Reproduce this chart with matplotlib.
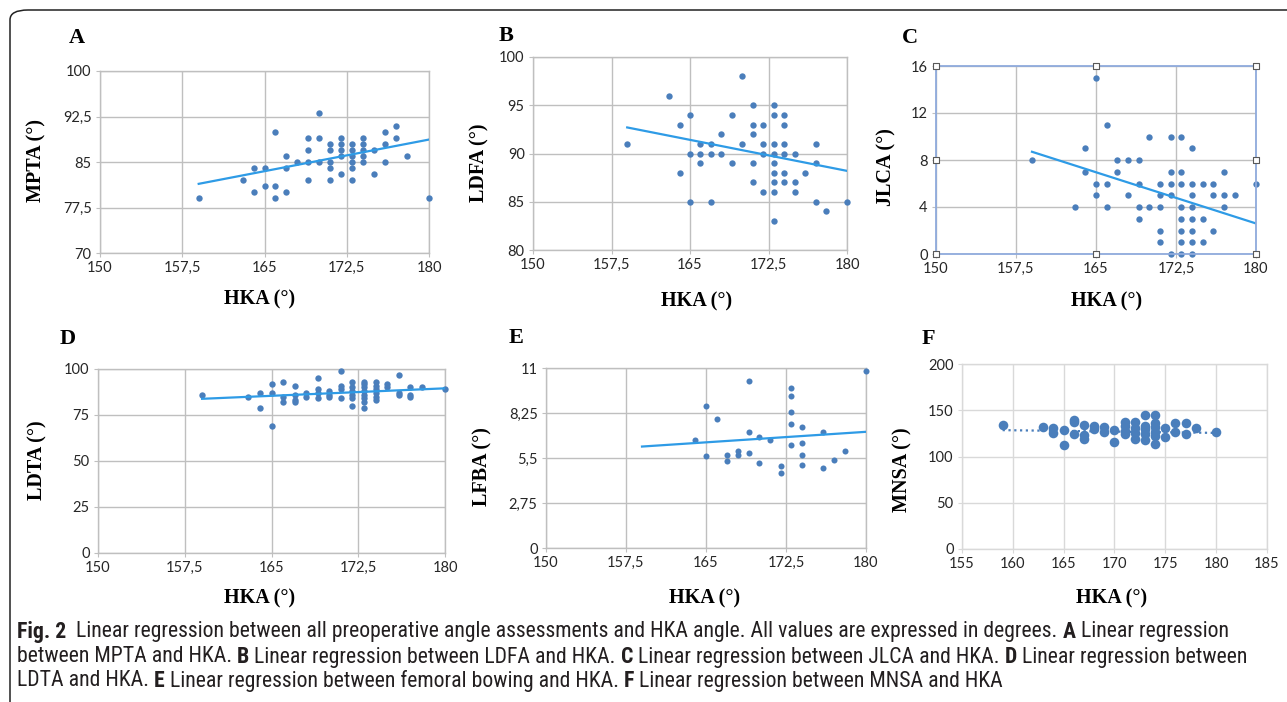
import numpy as np
import matplotlib.pyplot as plt
from matplotlib import font_manager
from matplotlib.font_manager import FontProperties
from matplotlib.patches import FancyBboxPatch

W, H = 1287, 702

# ---- data ----
hka_a = [159, 163, 164, 164, 165, 165, 166, 166, 166, 167, 167, 167, 168, 169, 169, 169, 169,
         170, 170, 170, 171, 171, 171, 171, 171, 172, 172, 172, 172, 172, 173, 173, 173, 173,
         173, 173, 174, 174, 174, 174, 174, 175, 175, 176, 176, 176, 177, 177, 178, 180]
mpta = [79, 82, 84, 80, 84, 81, 90, 81, 79, 86, 84, 80, 85, 89, 87, 85, 82,
        93, 89, 85, 88, 87, 85, 84, 82, 89, 88, 87, 86, 83, 88, 87, 86, 85,
        84, 82, 89, 88, 87, 86, 85, 87, 83, 90, 88, 85, 91, 89, 86, 79]

hka_b = [159, 163, 164, 164, 165, 165, 165, 166, 166, 166, 167, 167, 167, 168, 168, 169, 169,
         170, 170, 171, 171, 171, 171, 171, 172, 172, 172, 172, 173, 173, 173, 173, 173, 173,
         173, 173, 173, 174, 174, 174, 174, 174, 174, 175, 175, 175, 176, 177, 177, 177, 178, 180]
ldfa = [91, 96, 93, 88, 94, 90, 85, 91, 90, 89, 91, 90, 85, 92, 90, 94, 89,
        98, 91, 95, 93, 92, 89, 87, 93, 91, 90, 86, 95, 94, 91, 90, 89, 88,
        87, 86, 83, 94, 93, 91, 90, 88, 87, 90, 87, 86, 88, 91, 89, 85, 84, 85]

hka_c = [159, 163, 164, 164, 165, 165, 165, 166, 166, 166, 167, 167, 168, 168, 169, 169, 169, 169,
         170, 170, 171, 171, 171, 171, 171, 172, 172, 172, 172, 172, 173, 173, 173, 173, 173, 173,
         173, 173, 174, 174, 174, 174, 174, 174, 174, 174, 175, 175, 175, 176, 176, 176, 177, 177,
         177, 178, 180]
jlca = [8, 4, 9, 7, 15, 6, 5, 11, 6, 4, 8, 7, 8, 5, 8, 6, 4, 3,
        10, 4, 6, 5, 4, 2, 1, 10, 7, 6, 5, 0, 10, 7, 6, 4, 3, 2,
        1, 0, 9, 6, 5, 4, 3, 2, 1, 0, 6, 3, 1, 6, 5, 2, 7, 5,
        4, 5, 6]

hka_d = [159, 163, 164, 164, 165, 165, 165, 166, 166, 166, 167, 167, 167, 167, 168, 168,
         169, 169, 169, 169, 170, 170, 170, 171, 171, 171, 171, 172, 172, 172, 172, 172, 172,
         173, 173, 173, 173, 173, 173, 173, 173, 174, 174, 174, 174, 174, 174, 175, 175,
         176, 176, 176, 177, 177, 177, 178, 180]
ldta = [86, 85, 87, 79, 92, 87, 69, 93, 85, 82, 91, 86, 83, 82, 87, 85,
        95, 89, 87, 84, 88, 86, 85, 99, 91, 89, 84, 93, 90, 88, 86, 84, 80,
        93, 92, 90, 88, 86, 84, 82, 79, 93, 91, 89, 87, 85, 83, 92, 90,
        97, 87, 86, 90, 86, 85, 90, 89]

hka_e = [164, 165, 165, 166, 167, 167, 168, 168, 169, 169, 169, 170, 170, 171, 172, 172,
         173, 173, 173, 173, 173, 174, 174, 174, 174, 176, 176, 177, 178, 180]
lfba = [6.6, 8.7, 5.6, 7.9, 5.7, 5.3, 5.9, 5.7, 10.2, 7.1, 5.8, 6.8, 5.2, 6.6, 5.0, 4.6,
        9.8, 9.3, 8.3, 7.6, 6.3, 7.4, 6.4, 5.7, 5.1, 7.1, 4.9, 5.4, 5.9, 10.8]

hka_f = [159, 163, 164, 164, 165, 165, 166, 166, 166, 167, 167, 167, 168, 168, 169, 169,
         170, 170, 171, 171, 171, 171, 172, 172, 172, 172, 173, 173, 173, 173, 173,
         174, 174, 174, 174, 174, 174, 175, 175, 176, 176, 177, 177, 178, 180]
mnsa = [134, 132, 131, 125, 129, 112, 139, 137, 124, 134, 123, 119, 133, 130, 132, 126,
        129, 116, 137, 133, 128, 124, 137, 131, 125, 119, 145, 133, 130, 124, 118,
        145, 136, 132, 127, 122, 114, 131, 121, 136, 126, 136, 124, 131, 126]

# fitted lines as drawn in the figure (value at HKA 159 and at HKA 180)
trend_x = [159, 180]
trend_a = [81.4, 88.7]
trend_b = [92.7, 88.2]
trend_c = [8.7, 2.6]
trend_d = [83.8, 89.5]
trend_e = [6.2, 7.1]
trend_f = [128.5, 125.5]

hka_ticks = [150, 157.5, 165, 172.5, 180]
hka_labels = ["150", "157,5", "165", "172,5", "180"]

# ---- fonts ----
cap_font, cap_stretch = "DejaVu Sans", "normal"
for fam in ["Liberation Sans Narrow", "Roboto Condensed", "Open Sans Condensed", "Noto Sans",
            "Open Sans", "Roboto"]:
    try:
        path = font_manager.findfont(FontProperties(family=fam, stretch="condensed"),
                                     fallback_to_default=False)
    except Exception:
        continue
    if "ondensed" in path or "Narrow" in path:
        cap_font, cap_stretch = fam, "condensed"
        break
tick_font = "Lato"
serif = "Liberation Serif"

dot_col = "#4a7ebb"
line_col = "#2e9be6"
grid_col = "#bfbfbf"


def box(x0, y0, x1, y1):
    # pixel box (top-left origin) -> figure rect
    return [x0 / W, 1 - y1 / H, (x1 - x0) / W, (y1 - y0) / H]


fig = plt.figure(figsize=(W / 100, H / 100), dpi=100)


def panel(rect, x, y, trend, xlim, xt, xtl, ylim, yt, ytl, ylabel, letter, letter_xy, ylab_xy,
          xlab_xy, size=21, gcol=grid_col, dotted=False):
    ax = fig.add_axes(box(*rect))
    ax.scatter(x, y, s=size, color=dot_col, zorder=3, clip_on=False, linewidths=0)
    if dotted:
        ax.plot(trend_x, trend, color=dot_col, lw=1.6, ls=(0, (1, 1.6)), zorder=2)
    else:
        ax.plot(trend_x, trend, color=line_col, lw=1.6, zorder=4)
    ax.set_xlim(*xlim)
    ax.set_ylim(*ylim)
    ax.set_xticks(xt)
    ax.set_xticklabels(xtl)
    ax.set_yticks(yt)
    ax.set_yticklabels(ytl)
    ax.grid(True, color=gcol, lw=1)
    ax.set_axisbelow(True)
    for s in ax.spines.values():
        s.set_color(gcol)
        s.set_linewidth(1)
    ax.tick_params(length=3, color=gcol, labelsize=10.5, labelcolor="#262626", pad=3)
    for lab in ax.get_xticklabels() + ax.get_yticklabels():
        lab.set_fontfamily(tick_font)
    fig.text(letter_xy[0] / W, 1 - letter_xy[1] / H, letter, family=serif, weight="bold",
             fontsize=16, ha="center", va="center")
    fig.text(ylab_xy[0] / W, 1 - ylab_xy[1] / H, ylabel, family=serif, weight="bold",
             fontsize=14.5, ha="center", va="center", rotation=90)
    fig.text(xlab_xy[0] / W, 1 - xlab_xy[1] / H, "HKA (°)", family=serif, weight="bold",
             fontsize=14.5, ha="center", va="center")
    return ax


panel((100, 71, 429, 253), hka_a, mpta, trend_a, (150, 180), hka_ticks, hka_labels,
      (70, 100), [70, 77.5, 85, 92.5, 100], ["70", "77,5", "85", "92,5", "100"],
      "MPTA (°)", "A", (77, 38), (36, 160), (260, 299))

panel((533, 57, 847, 250), hka_b, ldfa, trend_b, (150, 180), hka_ticks, hka_labels,
      (80, 100), [80, 85, 90, 95, 100], ["80", "85", "90", "95", "100"],
      "LDFA (°)", "B", (506, 36), (479, 163), (697, 301))

axc = panel((936, 66, 1256, 254), hka_c, jlca, trend_c, (150, 180), hka_ticks, hka_labels,
            (0, 16), [0, 4, 8, 12, 16], ["0", "4", "8", "12", "16"],
            "JLCA (°)", "C", (910, 38), (886, 167), (1107, 301))
for s in axc.spines.values():
    s.set_color("#8faadc")
    s.set_linewidth(1.3)
    s.set_zorder(5)
hx = [150, 165, 180, 150, 180, 150, 165, 180]
hy = [16, 16, 16, 8, 8, 0, 0, 0]
axc.scatter(hx, hy, marker="s", s=14, facecolor="white", edgecolor="#595959",
            linewidths=0.8, zorder=6, clip_on=False)

panel((98, 369, 445, 553), hka_d, ldta, trend_d, (150, 180), hka_ticks, hka_labels,
      (0, 100), [0, 25, 50, 75, 100], ["0", "25", "50", "75", "100"],
      "LDTA (°)", "D", (68, 339), (37, 460), (260, 598))

panel((546, 368, 866, 548), hka_e, lfba, trend_e, (150, 180), hka_ticks, hka_labels,
      (0, 11), [0, 2.75, 5.5, 8.25, 11], ["0", "2,75", "5,5", "8,25", "11"],
      "LFBA (°)", "E", (516, 338), (482, 467), (705, 598), size=19)

panel((962, 364, 1267, 549), hka_f, mnsa, trend_f, (155, 185), list(range(155, 186, 5)),
      [str(v) for v in range(155, 186, 5)],
      (0, 200), [0, 50, 100, 150, 200], ["0", "50", "100", "150", "200"],
      "MNSA (°)", "F", (928, 339), (902, 470), (1112, 598), size=48, gcol="#d9d9d9", dotted=True)

# ---- frame ----
frame = FancyBboxPatch((10 / W, -0.2), 1.2, 1 - 10 / H + 0.2,
                       boxstyle="round,pad=0,rounding_size=0.014",
                       transform=fig.transFigure, fill=False, edgecolor="#222222",
                       lw=1.1, clip_on=False)
fig.patches.append(frame)

# ---- caption ----
caption = [
    [("Fig. 2", True), ("  Linear regression between all preoperative angle assessments and HKA angle. "
                       "All values are expressed in degrees. ", False), ("A", True),
     (" Linear regression", False)],
    [("between MPTA and HKA. ", False), ("B", True), (" Linear regression between LDFA and HKA. ", False),
     ("C", True), (" Linear regression between JLCA and HKA. ", False), ("D", True),
     (" Linear regression between", False)],
    [("LDTA and HKA. ", False), ("E", True), (" Linear regression between femoral bowing and HKA. ", False),
     ("F", True), (" Linear regression between MNSA and HKA", False)],
]
cap_y = [632, 657, 681]
renderer = fig.canvas.get_renderer()
fs = 12.5
# scale font so the first line spans the same width as in the figure
probe = fig.text(0, 0, "".join(p for p, _ in caption[0]), family=cap_font, stretch=cap_stretch,
                 fontsize=fs)
wpx = probe.get_window_extent(renderer).width
probe.remove()
fs = min(fs * 1226 / wpx, 17)

for line, yy in zip(caption, cap_y):
    x = 17
    for txt, bold in line:
        t = fig.text(x / W, 1 - yy / H, txt, family=cap_font, stretch=cap_stretch, fontsize=fs,
                     color="#231f20", weight="bold" if bold else "normal", va="center", ha="left")
        x += t.get_window_extent(renderer).width

fig.savefig("out.png", dpi=100)
